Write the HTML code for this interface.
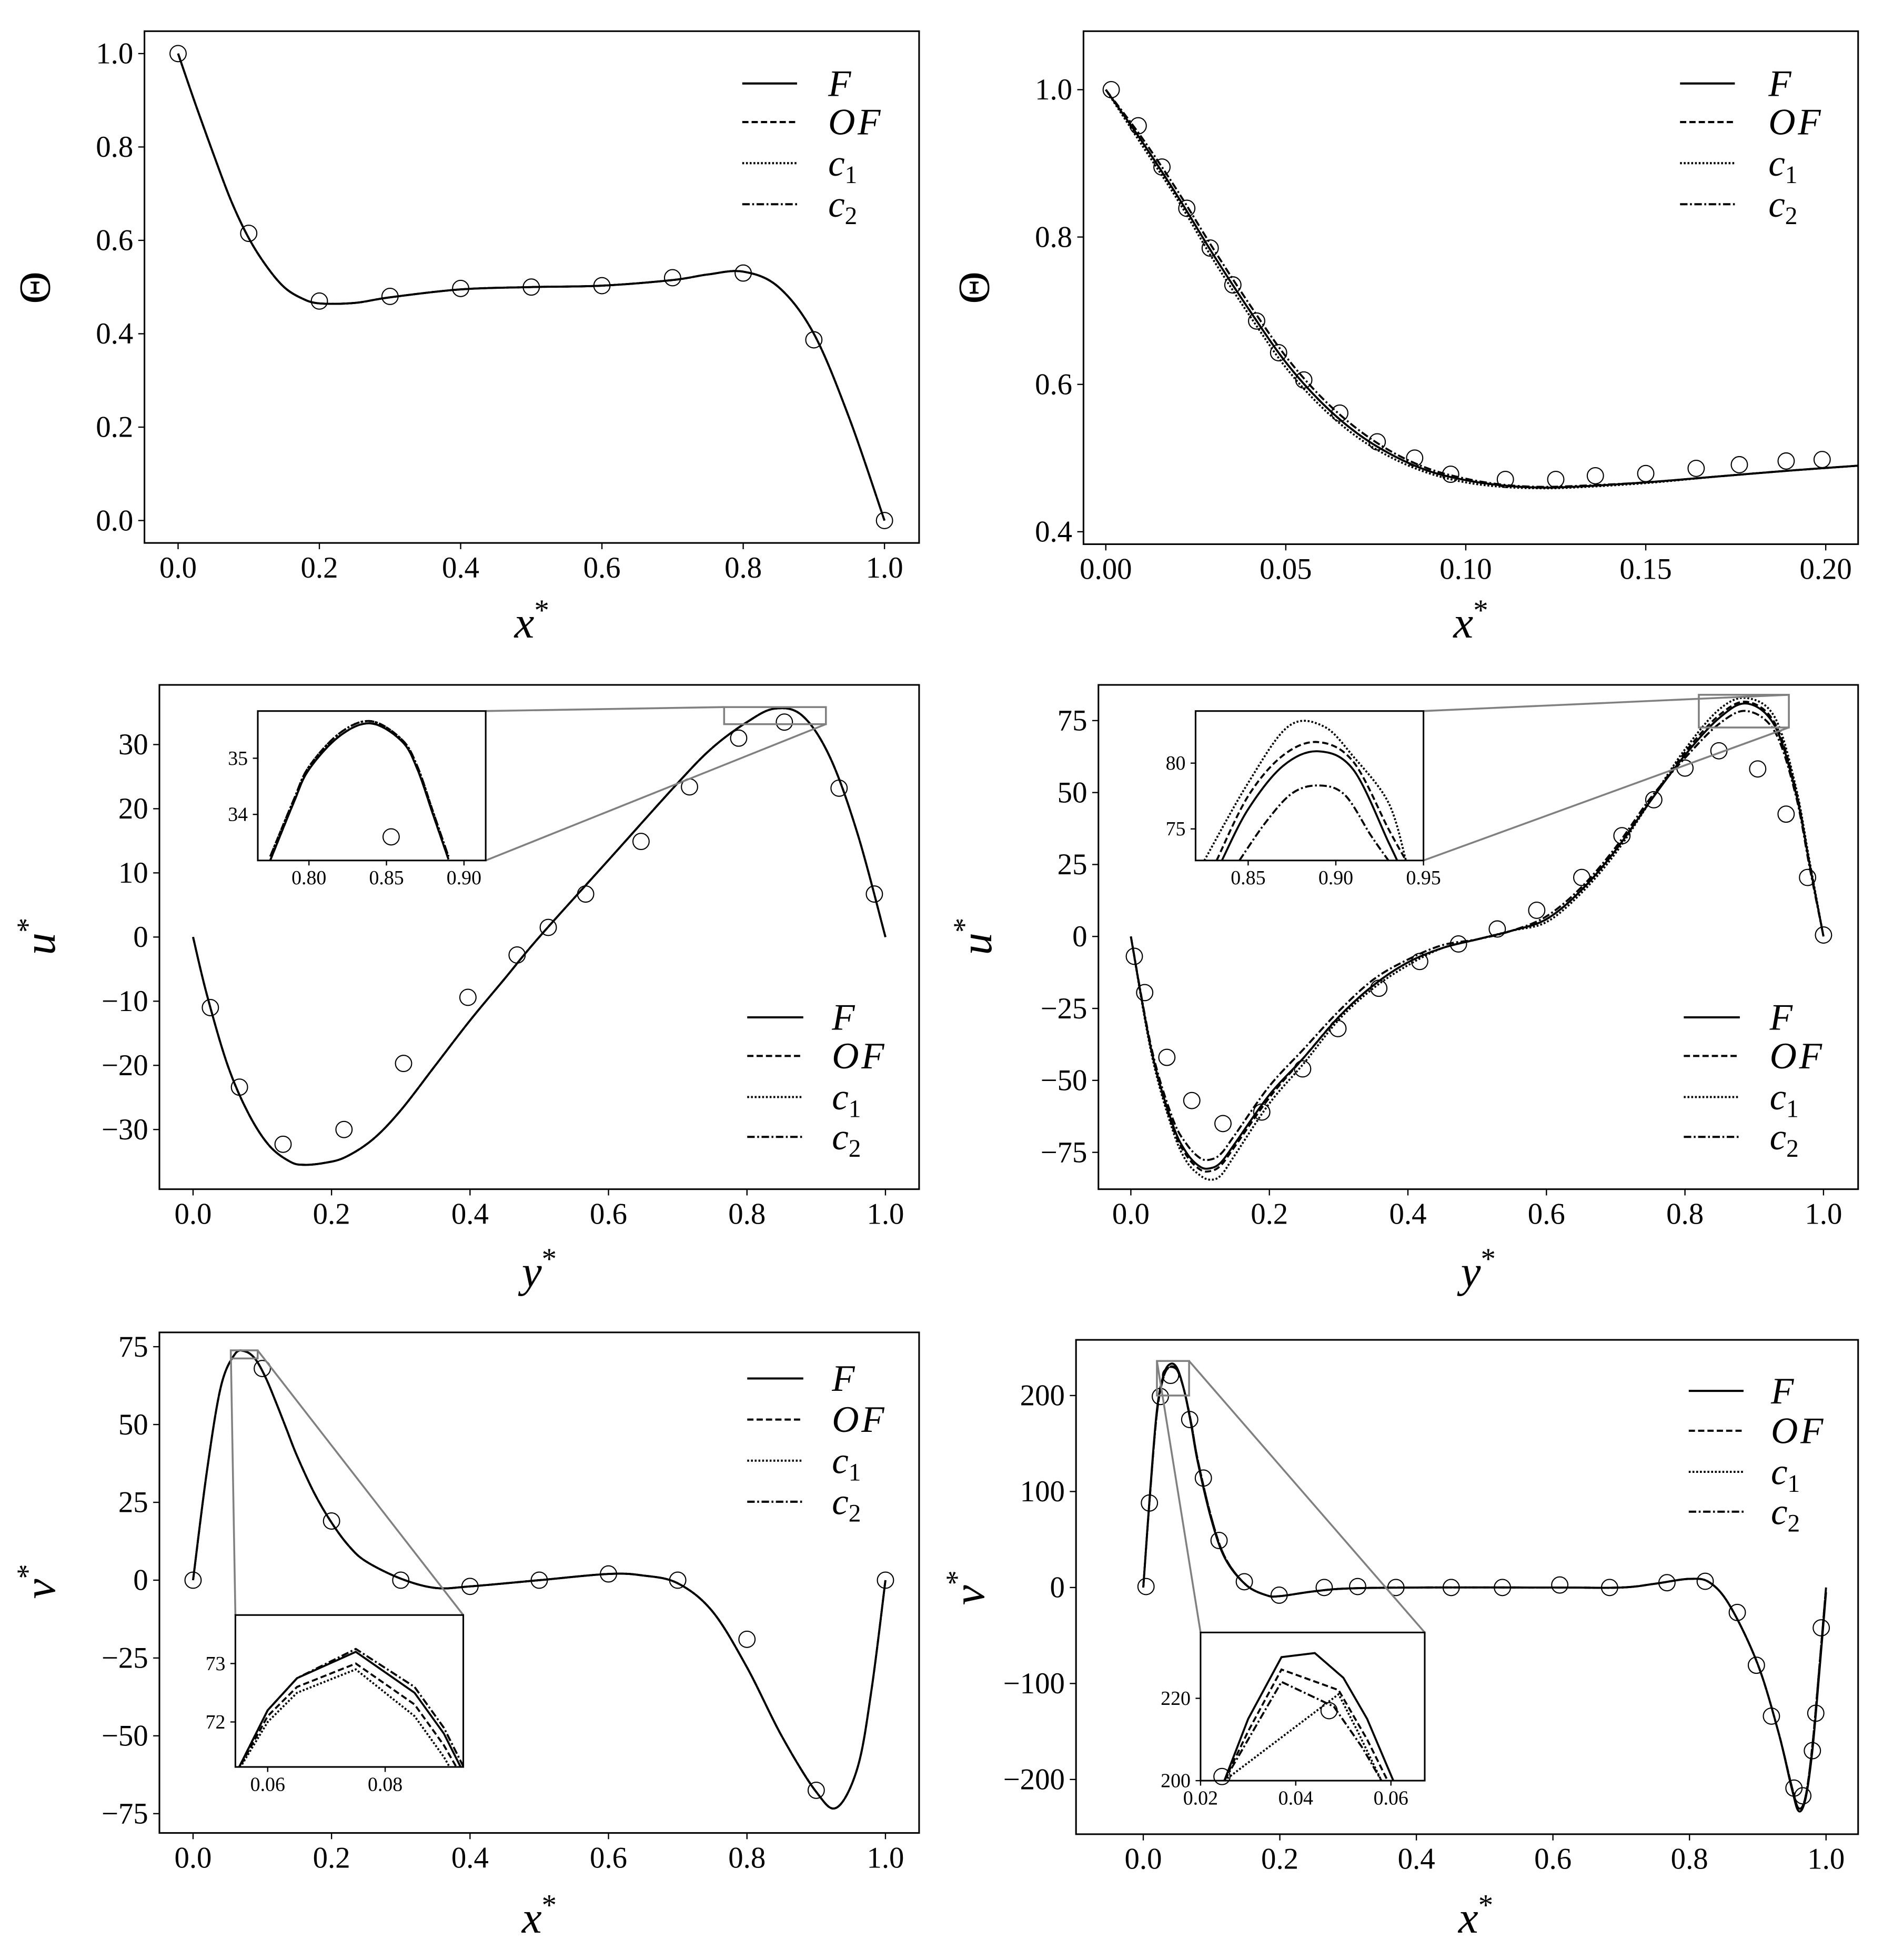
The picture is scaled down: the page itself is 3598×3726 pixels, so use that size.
<!DOCTYPE html>
<html><head><meta charset="utf-8"><style>
html,body{margin:0;padding:0;background:#fff;}
svg{display:block;font-family:"Liberation Serif",serif;}
</style></head><body>
<svg id="fig" width="3598" height="3726" viewBox="0 0 1520 1574" xmlns="http://www.w3.org/2000/svg"></svg>
<script>
// ---------- DATA ----------
// Panel 1: Theta vs x*
const p1X=[0,0.025,0.05,0.075,0.1,0.125,0.15,0.175,0.2,0.25,0.3,0.4,0.5,0.6,0.7,0.75,0.8,0.85,0.9,0.95,1.0];
const p1F=[1.0,0.89,0.785,0.685,0.605,0.545,0.50,0.476,0.465,0.466,0.478,0.495,0.50,0.503,0.515,0.527,0.533,0.50,0.40,0.22,0.0];
const p1MX=[0,0.1,0.2,0.3,0.4,0.5,0.6,0.7,0.8,0.9,1.0];
const p1MY=[1.0,0.615,0.47,0.48,0.497,0.5,0.503,0.52,0.53,0.387,0.0];
// Panel 2
const p2X=[0,0.01,0.02,0.03,0.04,0.05,0.06,0.07,0.08,0.09,0.10,0.11,0.12,0.13,0.15,0.17,0.19,0.21];
const p2F=[1.0,0.93,0.855,0.775,0.70,0.63,0.575,0.533,0.503,0.482,0.47,0.463,0.46,0.461,0.467,0.475,0.483,0.49];
const p2C2=[1.0,0.935,0.862,0.783,0.708,0.638,0.582,0.539,0.507,0.485,0.472,0.464,0.461,0.462,0.467,0.475,0.483,0.49];
const p2C1=[1.0,0.925,0.85,0.768,0.693,0.623,0.569,0.528,0.499,0.479,0.467,0.461,0.459,0.46,0.466,0.475,0.483,0.49];
const p2MX=[0.0015,0.009,0.0156,0.0225,0.029,0.0353,0.0419,0.048,0.055,0.065,0.0754,0.0858,0.0958,0.111,0.125,0.136,0.150,0.164,0.176,0.189,0.199];
const p2MY=[1.0,0.951,0.895,0.839,0.785,0.735,0.686,0.643,0.606,0.561,0.522,0.500,0.478,0.471,0.471,0.476,0.479,0.486,0.491,0.496,0.498];
// Panel 3
const p3X=[0,0.02,0.05,0.08,0.11,0.14,0.16,0.19,0.22,0.26,0.3,0.35,0.4,0.45,0.5,0.6,0.7,0.75,0.8,0.84,0.88,0.92,0.96,1.0];
const p3F=[0,-9,-20,-27.5,-32.5,-35,-35.5,-35.2,-34.3,-31.5,-27,-20,-13,-6.5,0,12,24,29.5,33.5,35.6,34.5,28,16,0];
const p3MX=[0.025,0.067,0.13,0.218,0.304,0.397,0.468,0.513,0.567,0.647,0.717,0.788,0.854,0.933,0.984];
const p3MY=[-11.0,-23.4,-32.3,-30.0,-19.7,-9.4,-2.8,1.5,6.7,14.9,23.4,31.0,33.5,23.2,6.7];
const p3iX=[0.775,0.79,0.80,0.82,0.84,0.86,0.87,0.88,0.89];
const p3iF=[33.18,34.2,34.8,35.4,35.62,35.3,34.8,34.0,33.2];
const p3iC2=[33.25,34.25,34.85,35.45,35.66,35.33,34.85,34.05,33.25];
const p3iMX=[0.853]; const p3iMY=[33.6];
// Panel 4
const p4X=[0,0.03,0.06,0.08,0.1,0.115,0.13,0.15,0.2,0.25,0.3,0.35,0.4,0.45,0.5,0.55,0.6,0.65,0.7,0.75,0.8,0.85,0.89,0.93,0.96,0.98,1.0];
const p4F=[0,-40,-65,-75,-80,-80.5,-78.5,-72,-55,-42,-28,-17,-9,-4,-1,2,6,16,30,47,63,76,80.9,73,50,25,0];
const p4OF=[0,-40,-66,-76,-81,-81.5,-79.5,-73,-56,-42,-28,-17,-9,-4,-1,2,6,16,30,47,64,77,81.5,74,51,25,0];
const p4C1=[0,-41,-67,-78,-83,-84.5,-83,-76,-58,-44,-29,-18,-10,-4,-1,2,5,15,29,47,65,79,82.8,76,52,26,0];
const p4C2=[0,-39,-63,-72,-77,-77.5,-75.5,-69,-52,-39,-26,-15,-8,-3,-1,2,7,17,31,48,62,74,78.3,71,49,24,0];
const p4MX=[0.005,0.020,0.052,0.088,0.133,0.189,0.248,0.299,0.358,0.417,0.473,0.529,0.586,0.651,0.709,0.755,0.800,0.849,0.905,0.946,0.977,1.0];
const p4MY=[-6.9,-19.5,-42,-57,-65,-61,-46,-32,-18,-8.7,-2.6,2.6,9.1,20.5,35,47.5,58.5,64.5,58.2,42.5,20.5,0.5];
const p4iFX=[0.835,0.85,0.87,0.89,0.91,0.93,0.935];
const p4iF=[72.6,76.5,79.8,80.9,79.5,74,72.6];
const p4iOFX=[0.832,0.85,0.87,0.89,0.91,0.93,0.94];
const p4iOF=[72.6,77.5,80.6,81.6,80.1,75,72.6];
const p4iC1X=[0.825,0.85,0.873,0.893,0.91,0.93,0.94];
const p4iC1=[72.6,78.5,82.8,82.8,80.5,77,72.6];
const p4iC2X=[0.845,0.86,0.875,0.89,0.905,0.92,0.93];
const p4iC2=[72.6,75.5,77.7,78.3,77.6,74.5,72.6];
// Panel 5
const p5X=[0,0.02,0.04,0.06,0.075,0.09,0.105,0.12,0.135,0.15,0.175,0.2,0.225,0.25,0.3,0.35,0.4,0.5,0.6,0.65,0.7,0.75,0.8,0.85,0.9,0.93,0.96,0.98,1.0];
const p5F=[0,35,62,72.5,73.5,71,65,57,48.5,40,28,18.5,11,6,0.5,-2.5,-2,0,2,1.5,-1,-10,-28,-50,-68,-73,-60,-35,0];
const p5MX=[0,0.1,0.2,0.3,0.4,0.5,0.6,0.7,0.8,0.9,1.0];
const p5MY=[0,68,19,0,-2,0,2,0,-19,-67.5,0];
const p5iX=[0.054,0.06,0.065,0.075,0.085,0.09,0.094];
const p5iF=[71.0,72.2,72.75,73.2,72.5,71.8,71.0];
const p5iOF=[71.0,72.1,72.6,73.0,72.3,71.6,70.9];
const p5iC1=[71.0,72.0,72.5,72.9,72.1,71.4,70.7];
const p5iC2=[71.0,72.2,72.75,73.25,72.6,71.9,71.1];
// Panel 6
const p6X=[0,0.01,0.02,0.03,0.04,0.05,0.06,0.07,0.08,0.1,0.12,0.15,0.18,0.2,0.25,0.3,0.4,0.6,0.7,0.75,0.8,0.83,0.86,0.9,0.93,0.95,0.96,0.97,0.98,0.99,1.0];
const p6F=[0,100,185,222,233,228,205,170,130,70,30,3,-8,-9,-4,-1,0,0,0,4,9,5,-20,-80,-150,-210,-233,-220,-170,-90,-5];
const p6OF=[0,98,182,220,230,226,205,172,132,72,31,3,-8,-9,-4,-1,0,0,0,4,9,5,-20,-80,-150,-208,-230,-218,-165,-85,0];
const p6MX=[0.004,0.009,0.025,0.040,0.068,0.088,0.111,0.148,0.199,0.265,0.314,0.370,0.451,0.526,0.610,0.683,0.767,0.823,0.870,0.898,0.920,0.953,0.966,0.980,0.985,0.993];
const p6MY=[1,88,199,221,175,114,49,6,-8,0,1,0,0,0,2.6,0,5,6.5,-26,-81,-134,-209,-217,-170,-131,-42];
const p6iFX=[0.025,0.03,0.037,0.044,0.05,0.055,0.0605];
const p6iF=[200,215,230,231,225,215,200];
const p6iOFX=[0.025,0.03,0.037,0.049,0.055,0.0593];
const p6iOF=[200,212,227,222,210,200];
const p6iC2X=[0.025,0.037,0.048,0.054,0.058];
const p6iC2=[200,224,218,208,200];
const p6iC1X=[0.025,0.049,0.053,0.058];
const p6iC1=[200,221,212,200];
const p6iMX=[0.0245,0.047]; const p6iMY=[201,217];

// ---------- RENDER ----------
const NS="http://www.w3.org/2000/svg";
const fig=document.getElementById('fig');
function mk(tag,attrs,parent){const e=document.createElementNS(NS,tag);for(const k in attrs)e.setAttribute(k,attrs[k]);(parent||fig).appendChild(e);return e;}
const STY={F:'none',OF:'5,2.5',c1:'1.5,1.5',c2:'6,2,1.5,2'};
let clipId=0;
function scales(b,xd,yd){
  return {sx:v=>b.l+(v-xd[0])/(xd[1]-xd[0])*(b.r-b.l), sy:v=>b.b-(v-yd[0])/(yd[1]-yd[0])*(b.b-b.t)};
}
function pathD(xs,ys,sx,sy,smooth){
  const p=xs.map((x,i)=>[sx(x),sy(ys[i])]);
  if(!smooth)return 'M'+p.map(q=>q[0].toFixed(2)+','+q[1].toFixed(2)).join('L');
  let d='M'+p[0][0]+','+p[0][1];
  for(let i=0;i<p.length-1;i++){
    const p0=p[i-1]||p[i],p1=p[i],p2=p[i+1],p3=p[i+2]||p2;
    const c1=[p1[0]+(p2[0]-p0[0])/6,p1[1]+(p2[1]-p0[1])/6];
    const c2=[p2[0]-(p3[0]-p1[0])/6,p2[1]-(p3[1]-p1[1])/6];
    d+='C'+c1.join(',')+' '+c2.join(',')+' '+p2.join(',');
  }
  return d;
}
function fmt(v,dec){let s=v.toFixed(dec);return s.replace('-','\u2212');}
function axes(g,b,xd,yd,xt,xdec,yt,ydec,fs,tl){
  const {sx,sy}=scales(b,xd,yd);
  xt.forEach(v=>{const x=sx(v);
    const tk=mk('line',{x1:x,x2:x,y1:b.b,y2:b.b+tl,stroke:'#000','stroke-width':1},g);
    
    const t=mk('text',{x:x,y:b.b+tl+fs*0.95,'font-size':fs,'text-anchor':'middle'},g);t.textContent=fmt(v,xdec);
    });
  yt.forEach(v=>{const y=sy(v);
    const tk=mk('line',{x1:b.l-tl,x2:b.l,y1:y,y2:y,stroke:'#000','stroke-width':1},g);
    
    const t=mk('text',{x:b.l-tl-4,y:y+fs*0.33,'font-size':fs,'text-anchor':'end'},g);t.textContent=fmt(v,ydec);
    });
  return {sx,sy};
}
function series(g,b,sx,sy,xs,ys,style,w,smooth,name){
  const id='c'+(clipId++);
  const cp=mk('clipPath',{id:id},g);mk('rect',{x:b.l,y:b.t,width:b.r-b.l,height:b.b-b.t},cp);
  const p=mk('path',{d:pathD(xs,ys,sx,sy,smooth),fill:'none',stroke:'#000','stroke-width':w,'stroke-dasharray':STY[style],'clip-path':'url(#'+id+')'},g);
  
}
function markers(g,sx,sy,xs,ys,r){
  xs.forEach((x,i)=>{const c=mk('circle',{cx:sx(x),cy:sy(ys[i]),r:r,fill:'none',stroke:'#000','stroke-width':0.9},g);
    });
}
function frame(g,b,w){const r=mk('rect',{x:b.l,y:b.t,width:b.r-b.l,height:b.b-b.t,fill:'none',stroke:'#000','stroke-width':w},g);
  }
function legend(g,x0,x1,tx,rows){
  const labels=[['F','F'],['OF','OF'],['c1','c'],['c2','c']];
  labels.forEach((L,i)=>{const y=rows[i];
    const ln=mk('line',{x1:x0,x2:x1,y1:y,y2:y,stroke:'#000','stroke-width':1.7,'stroke-dasharray':STY[L[0]]},g);
    
    const t=mk('text',{x:tx,y:y+10,'font-size':30,'font-style':'italic'},g);
    
    if(L[0]==='OF'){t.textContent='OF';t.setAttribute('letter-spacing','2');}
    else if(L[0]==='F'){t.textContent='F';}
    else{t.textContent='c';const s=mk('tspan',{'font-size':20,'font-style':'normal',dy:6},t);s.textContent=L[0][1];}
  });
}
function xlabel(g,x,y,txt){const t=mk('text',{x:x,y:y,'font-size':36,'font-style':'italic','text-anchor':'middle'},g);
  t.textContent=txt;const s=mk('tspan',{'font-size':24,'font-style':'normal',dy:-14},t);s.textContent='*';
  }
function ylabel(g,x,y,txt,italic){const t=mk('text',{x:x,y:y,'font-size':36,'font-style':italic?'italic':'normal','text-anchor':'middle',transform:'rotate(-90 '+x+' '+y+')'},g);
  t.textContent=txt;if(italic){const s=mk('tspan',{'font-size':24,'font-style':'normal',dy:-14},t);s.textContent='*';}
  }
function zoomRect(g,rb,ib,c1,c2){
  const r=mk('rect',{x:rb.l,y:rb.t,width:rb.r-rb.l,height:rb.b-rb.t,fill:'none',stroke:'#808080','stroke-width':1.5},g);
  
  [c1,c2].forEach(c=>{const l=mk('line',{x1:c[0],y1:c[1],x2:c[2],y2:c[3],stroke:'#808080','stroke-width':1.5},g);
    });
}
function panel(name){const g=mk('g',{});return g;}
function insetBg(g,b){mk('rect',{x:b.l,y:b.t,width:b.r-b.l,height:b.b-b.t,fill:'#fff'},g);}
const TF=24, IF=16;

// Panel 1
{const g=panel('panel-theta-full');const b={l:116,r:738,t:25,b:436};
 const {sx,sy}=axes(g,b,[-0.0476,1.049],[-0.048,1.048],[0,0.2,0.4,0.6,0.8,1.0],1,[0,0.2,0.4,0.6,0.8,1.0],1,TF,5);
 ['F','OF','c1','c2'].forEach(s=>series(g,b,sx,sy,p1X,p1F,s,1.6,true,'line-'+s.toLowerCase()));
 markers(g,sx,sy,p1MX,p1MY,6.5);frame(g,b,1.3);legend(g,596,640,665,[67,98,131,164]);
 xlabel(g,427,512,'x');ylabel(g,40,231,'Θ',false);}
// Panel 2
{const g=panel('panel-theta-wall');const b={l:870,r:1492,t:25,b:437};
 const {sx,sy}=axes(g,b,[-0.0062,0.2090],[0.3831,1.0794],[0,0.05,0.10,0.15,0.20],2,[0.4,0.6,0.8,1.0],1,TF,5);
 series(g,b,sx,sy,p2X,p2C1,'c1',1.6,true,'line-c1');series(g,b,sx,sy,p2X,p2C2,'c2',1.6,true,'line-c2');
 series(g,b,sx,sy,p2X,p2F,'OF',1.6,true,'line-of');series(g,b,sx,sy,p2X,p2F,'F',1.6,true,'line-f');
 markers(g,sx,sy,p2MX,p2MY,6.5);frame(g,b,1.3);legend(g,1349,1393,1420,[67,98,131,164]);
 xlabel(g,1181,512,'x');ylabel(g,794,231,'Θ',false);}
// Panel 3
{const g=panel('panel-u-left');const b={l:128,r:738,t:550,b:955};
 const {sx,sy}=axes(g,b,[-0.0486,1.0486],[-39.3,39.3],[0,0.2,0.4,0.6,0.8,1.0],1,[-30,-20,-10,0,10,20,30],0,TF,5);
 ['F','OF','c1','c2'].forEach(s=>series(g,b,sx,sy,p3X,p3F,s,1.6,true,'line-'+s.toLowerCase()));
 markers(g,sx,sy,p3MX,p3MY,6.5);frame(g,b,1.3);legend(g,600,645,668,[817,848,881,913]);
 xlabel(g,433,1033,'y');ylabel(g,44,752,'u',true);
 const ib={l:207,r:390,t:571,b:691};
 zoomRect(g,{l:sx(0.767),r:sx(0.914),t:sy(35.84),b:sy(33.18)},ib,[390,571,sx(0.767),sy(35.84)],[390,691,sx(0.914),sy(33.18)]);
 const ig=panel('inset-u-left');insetBg(ig,ib);
 const s2=axes(ig,ib,[0.767,0.914],[33.18,35.84],[0.80,0.85,0.90],2,[34,35],0,IF,4);
 series(ig,ib,s2.sx,s2.sy,p3iX,p3iC2,'c2',1.6,true,'inset-line-c2');series(ig,ib,s2.sx,s2.sy,p3iX,p3iC2,'c1',1.6,true,'inset-line-c1');
 series(ig,ib,s2.sx,s2.sy,p3iX,p3iF,'OF',1.6,true,'inset-line-of');series(ig,ib,s2.sx,s2.sy,p3iX,p3iF,'F',1.6,true,'inset-line-f');
 markers(ig,s2.sx,s2.sy,p3iMX,p3iMY,6.5);frame(ig,ib,1.3);}
// Panel 4
{const g=panel('panel-u-right');const b={l:882,r:1492,t:550,b:955};
 const {sx,sy}=axes(g,b,[-0.0468,1.05],[-87.8,87.4],[0,0.2,0.4,0.6,0.8,1.0],1,[-75,-50,-25,0,25,50,75],0,TF,5);
 series(g,b,sx,sy,p4X,p4C1,'c1',1.6,true,'line-c1');series(g,b,sx,sy,p4X,p4C2,'c2',1.6,true,'line-c2');
 series(g,b,sx,sy,p4X,p4OF,'OF',1.6,true,'line-of');series(g,b,sx,sy,p4X,p4F,'F',1.6,true,'line-f');
 markers(g,sx,sy,p4MX,p4MY,6.5);frame(g,b,1.3);legend(g,1352,1397,1421,[817,848,881,913]);
 xlabel(g,1187,1033,'y');ylabel(g,796,752,'u',true);
 const ib={l:960,r:1143,t:571,b:691};
 zoomRect(g,{l:sx(0.82),r:sx(0.95),t:sy(83.96),b:sy(72.6)},ib,[1143,571,sx(0.95),sy(83.96)],[1143,691,sx(0.95),sy(72.6)]);
 const ig=panel('inset-u-right');insetBg(ig,ib);
 const s2=axes(ig,ib,[0.82,0.95],[72.6,83.96],[0.85,0.90,0.95],2,[75,80],0,IF,4);
 series(ig,ib,s2.sx,s2.sy,p4iC1X,p4iC1,'c1',1.6,true,'inset-line-c1');series(ig,ib,s2.sx,s2.sy,p4iC2X,p4iC2,'c2',1.6,true,'inset-line-c2');
 series(ig,ib,s2.sx,s2.sy,p4iOFX,p4iOF,'OF',1.6,true,'inset-line-of');series(ig,ib,s2.sx,s2.sy,p4iFX,p4iF,'F',1.6,true,'inset-line-f');
 frame(ig,ib,1.3);}
// Panel 5
{const g=panel('panel-v-left');const b={l:128,r:738,t:1070,b:1472};
 const {sx,sy}=axes(g,b,[-0.0486,1.0486],[-81.2,79.6],[0,0.2,0.4,0.6,0.8,1.0],1,[-75,-50,-25,0,25,50,75],0,TF,5);
 ['F','OF','c1','c2'].forEach(s=>series(g,b,sx,sy,p5X,p5F,s,1.6,true,'line-'+s.toLowerCase()));
 markers(g,sx,sy,p5MX,p5MY,6.5);frame(g,b,1.3);legend(g,600,645,668,[1107,1140,1173,1206]);
 xlabel(g,433,1552,'x');ylabel(g,44,1270,'v',true);
 const ib={l:189,r:372,t:1297,b:1419};
 zoomRect(g,{l:sx(0.0545),r:sx(0.0933),t:sy(73.83),b:sy(71.23)},ib,[sx(0.0545),sy(73.83),189,1297],[sx(0.0933),sy(73.83),372,1297]);
 const ig=panel('inset-v-left');insetBg(ig,ib);
 const s2=axes(ig,ib,[0.0545,0.0933],[71.23,73.83],[0.06,0.08],2,[72,73],0,IF,4);
 series(ig,ib,s2.sx,s2.sy,p5iX,p5iC1,'c1',1.6,false,'inset-line-c1');series(ig,ib,s2.sx,s2.sy,p5iX,p5iOF,'OF',1.6,false,'inset-line-of');
 series(ig,ib,s2.sx,s2.sy,p5iX,p5iC2,'c2',1.6,false,'inset-line-c2');series(ig,ib,s2.sx,s2.sy,p5iX,p5iF,'F',1.6,false,'inset-line-f');
 frame(ig,ib,1.3);}
// Panel 6
{const g=panel('panel-v-right');const b={l:864,r:1492,t:1076,b:1473};
 const {sx,sy}=axes(g,b,[-0.0985,1.047],[-257,258],[0,0.2,0.4,0.6,0.8,1.0],1,[-200,-100,0,100,200],0,TF,5);
 series(g,b,sx,sy,p6X,p6OF,'c1',1.6,true,'line-c1');series(g,b,sx,sy,p6X,p6OF,'c2',1.6,true,'line-c2');
 series(g,b,sx,sy,p6X,p6OF,'OF',1.6,true,'line-of');series(g,b,sx,sy,p6X,p6F,'F',1.6,true,'line-f');
 markers(g,sx,sy,p6MX,p6MY,6.5);frame(g,b,1.3);legend(g,1356,1400,1422,[1117,1149,1182,1214]);
 xlabel(g,1185,1552,'x');ylabel(g,790,1275,'v',true);
 const ib={l:964,r:1144,t:1311,b:1430};
 zoomRect(g,{l:sx(0.02),r:sx(0.0671),t:sy(236),b:sy(200)},ib,[sx(0.02),sy(236),964,1311],[sx(0.0671),sy(236),1144,1311]);
 const ig=panel('inset-v-right');insetBg(ig,ib);
 const s2=axes(ig,ib,[0.02,0.0671],[200,236],[0.02,0.04,0.06],2,[200,220],0,IF,4);
 series(ig,ib,s2.sx,s2.sy,p6iC1X,p6iC1,'c1',1.6,false,'inset-line-c1');series(ig,ib,s2.sx,s2.sy,p6iC2X,p6iC2,'c2',1.6,false,'inset-line-c2');
 series(ig,ib,s2.sx,s2.sy,p6iOFX,p6iOF,'OF',1.6,false,'inset-line-of');series(ig,ib,s2.sx,s2.sy,p6iFX,p6iF,'F',1.6,false,'inset-line-f');
 markers(ig,s2.sx,s2.sy,p6iMX,p6iMY,6.5);frame(ig,ib,1.3);}
</script>
</body></html>
